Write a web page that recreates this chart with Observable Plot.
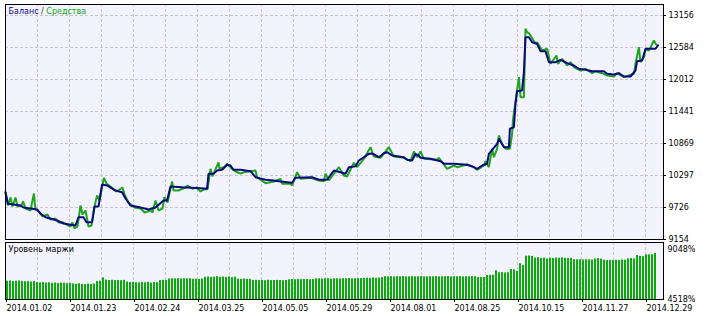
<!DOCTYPE html>
<html>
<head>
<meta charset="utf-8">
<script src="https://cdn.jsdelivr.net/npm/d3@7"></script>
<script src="https://cdn.jsdelivr.net/npm/@observablehq/plot@0.6"></script>
<style>
  html, body { margin: 0; padding: 0; background: #fff; }
  #chart { position: relative; width: 707px; height: 316px; overflow: hidden; background: #fff; }
  #chart svg { position: absolute; left: 0; }
</style>
</head>
<body>
<div id="chart"></div>
<script>
// ---- data (x = trade number along the tester axis) ----
const xDateLabels = ["2014.01.02","2014.01.23","2014.02.24","2014.03.25","2014.05.05","2014.05.29","2014.08.01","2014.08.25","2014.10.15","2014.11.27","2014.12.29"];
const xLabelTicks = [0,32,64,96,128,160,192,224,256,288,320];
const xGridTicks = [16,32,48,64,80,96,112,128,144,160,176,192,208,224,240,256,272,288,304,320];
const yTicks = [9154,9726,10297,10869,11441,12012,12584,13156];
const marginTicks = [4518,9048];

const balanceIdx = [0,1.2,7.5,9,15.8,17.5,20,25.8,29,35,36.5,39,40.5,43.3,44.5,46.5,48.3,50.8,55,58.3,60,62.5,67.5,71.5,75,79,80.8,82.5,88.3,97.5,100.8,101.5,104,105.8,108.3,110.8,112.5,114,117.5,122.5,125,130,134,137.5,143.3,145,153.3,156.7,160.8,164.2,167.5,170,171.7,175,176.7,181.7,183.5,186.7,189.2,190.8,193.3,199.2,200.8,203.3,205,206.5,207.5,212.5,217.5,219.2,224.2,230.8,234.2,235.8,238.3,240.8,241.7,245.8,246.7,249.2,251.7,252.2,254.2,255,255.8,258.3,259.2,260,261.7,263.3,265.8,267.5,270,271.7,275,277.5,280.8,284.2,286.7,290,293.3,299.2,300.8,304.2,306.7,309.2,312.5,315,315.8,318.3,320,325,326.2];
const balanceVal = [9999,9792,9761,9726,9690,9619,9552,9493,9440,9404,9552,9552,9463,9463,9744,9744,10137,10119,10029,9999,9887,9761,9726,9690,9726,9851,9851,10101,10088,10071,10060,10328,10328,10387,10399,10489,10476,10399,10399,10374,10267,10221,10208,10190,10167,10256,10267,10221,10221,10387,10356,10328,10446,10464,10565,10685,10690,10624,10696,10714,10655,10624,10578,10565,10685,10655,10614,10596,10553,10506,10506,10489,10446,10417,10476,10506,10685,10864,10953,10803,10803,11132,11160,11578,11804,11816,12143,12768,12768,12679,12650,12518,12518,12322,12322,12364,12304,12263,12204,12186,12161,12161,12114,12102,12125,12066,12066,12173,12340,12352,12561,12561,12620];

const equityIdx = [0,1.2,2.5,3.5,5,6,8,8.8,10,12.5,14.2,15,16.5,18.5,21,22.5,25,26.5,28.5,30.5,32.5,33.5,34.5,36,37.5,38.5,40,41.5,43,44.5,45.8,47,49.2,50.5,52.5,55.5,58.5,59.5,61.5,64.5,67.5,69.5,72.5,73.5,75,76.5,78.5,79.5,81,83.3,84,86.5,90,91,93.5,95.5,97.5,99.5,101,102.5,103.5,106.5,107,109.5,110.8,113,115,117.5,
  119.2,125,125.8,130,134.2,137.5,138.3,142.5,143.3,145.8,147.5,152.5,156.7,159.2,160,161.7,166.7,169.2,170.8,174.2,175.8,179.2,182.5,184.2,187.5,191.7,194.2,199.2,202.5,204.2,205.8,207.5,209.2,215.8,216.7,220.8,224.2,225.8,230.8,234.2,
  235.8,239.2,240,241.7,243.3,244.2,245.8,246.7,248.3,250,252.2,253.3,
  253.8,256.7,257.5,259.2,260,260.8,262,265,265.8,268.3,270.8,272.5,275.5,276.2,278.3,280.8,282.5,284.2,287.5,290,293.3,295,298.3,300.8,304.2,305.8,309.2,314.2,315,316.7,317.5,319.2,320,321.7,324.2,325.3,326.2];
const equityVal = [9999,9761,9904,9744,9904,9744,9761,9838,9708,9672,9976,9690,9654,9565,9601,9511,9529,9458,9463,9422,9386,9458,9351,9386,9761,9601,9672,9386,9404,9744,9940,9851,10256,10154,10101,10012,10083,9958,9815,9726,9708,9636,9672,9636,9851,9672,9708,9911,9815,10190,10030,10030,10083,10119,10060,10083,10012,10050,10050,10417,10280,10530,10422,10450,10510,10422,10369,10333,
  10356,10387,10267,10160,10190,10238,10149,10149,10119,10356,10238,10256,10208,10196,10328,10208,10446,10297,10280,10524,10446,10596,10803,10637,10614,10803,10637,10614,10553,10726,10624,10726,10596,10578,10614,10417,10476,10446,10494,10446,
  10399,10476,10553,10446,10774,10624,10774,11012,10864,10774,10774,11042,
  11310,12054,11696,11696,12918,12858,12829,12650,12679,12530,12561,12293,12441,12293,12382,12263,12322,12233,12173,12204,12125,12161,12125,12084,12066,12125,12054,12114,12293,12590,12322,12411,12543,12530,12709,12638,12620];

// margin level (%), one bar per step
const marginLevel = [
  6170,6190,6150,6180,6200,6160,6130,6150,6100,6140,
  6060,6020,6050,6000,6030,5990,6010,5970,6000,5990,
  5960,5980,5930,5900,5950,5880,5870,5920,5890,5930,
  6150,6180,6480,6280,6240,6260,6230,6240,6220,6250,
  6100,6060,6080,6040,6020,6060,6030,6070,6000,6050,
  6040,6230,6250,6230,6380,6400,6390,6410,6380,6400,
  6390,6400,6350,6360,6340,6370,6530,6560,6520,6540,
  6580,6530,6550,6520,6560,6500,6540,6360,6350,6370,
  6350,6340,6240,6250,6230,6240,6220,6260,6230,6240,
  6250,6230,6220,6240,6300,6330,6310,6340,6320,6330,
  6340,6310,6330,6390,6400,6380,6390,6410,6370,6400,
  6390,6380,6410,6400,6420,6390,6400,6410,6420,6440,
  6450,6430,6470,6440,6460,6500,6580,6570,6590,6560,
  6580,6570,6600,6560,6570,6590,6570,6580,6600,6570,
  6560,6580,6570,6590,6560,6570,6580,6600,6570,6580,
  6570,6590,6560,6580,6570,6590,6580,6500,6510,6520,
  6690,6700,6720,7120,6940,6950,6920,6940,7240,7200,
  7060,7750,7600,8440,8460,8420,8270,8300,8240,8260,
  8200,8260,8240,8280,8260,8290,8250,8240,8230,8120,
  8110,8120,8100,8120,8110,8100,8190,8230,8180,8080,
  8050,8060,8040,8070,8050,8100,8080,8200,8230,8190,
  8500,8420,8400,8560,8560,8570,8700
];

// ---- styling ----
const bg = "#F3F3FD";
const gridColor = "#C6C6CE";
const balanceColor = "#0A0A7E";
const equityColor = "#1EA51E";
const barColor = "#0DAA0D";
const font = "DejaVu Sans";
const xDomain = [0, 329];

const balance = balanceIdx.map((x, i) => ({x, v: balanceVal[i]}));
const equity = equityIdx.map((x, i) => ({x, v: equityVal[i]}));
const bars = marginLevel.map((v, i) => ({i, v}));

const topChart = Plot.plot({
  width: 707, height: 242,
  marginTop: 4, marginBottom: 3, marginLeft: 5, marginRight: 44,
  style: {fontFamily: font, fontSize: "8px", color: "#000", background: "transparent", overflow: "visible"},
  x: {domain: xDomain, axis: null},
  y: {domain: [9154, 13352], axis: null},
  marks: [
    Plot.frame({fill: bg}),
    Plot.ruleX(xGridTicks, {stroke: gridColor, strokeDasharray: "3,2"}),
    Plot.ruleY(yTicks.slice(1), {stroke: gridColor, strokeDasharray: "3,2"}),
    Plot.line(equity, {x: "x", y: "v", stroke: equityColor, strokeWidth: 2, strokeLinejoin: "miter"}),
    Plot.line(balance, {x: "x", y: "v", stroke: balanceColor, strokeWidth: 2, strokeLinejoin: "miter"}),
    Plot.frame({stroke: "#000"}),
    Plot.axisY({anchor: "right", label: null, ticks: yTicks, tickSize: 2, tickPadding: 3, tickFormat: d => String(d), fill: "#000", stroke: "#000"}),
    Plot.text(["Баланс / Средства"], {frameAnchor: "top-left", dx: 3, dy: 4, fill: balanceColor})
  ]
});

const bottomChart = Plot.plot({
  width: 707, height: 74,
  marginTop: 0, marginBottom: 17, marginLeft: 5, marginRight: 44,
  style: {fontFamily: font, fontSize: "8px", color: "#000", background: "#fff", overflow: "visible"},
  x: {domain: xDomain, axis: null},
  y: {domain: [4518, 9682], axis: null},
  marks: [
    Plot.frame({fill: bg}),
    Plot.ruleX(xGridTicks, {stroke: gridColor, strokeDasharray: "3,2"}),
    Plot.rectY(bars, {x1: d => 0.5 + 1.5 * d.i, x2: d => 1.5 + 1.5 * d.i, y1: 4518, y2: "v", fill: barColor}),
    Plot.frame({stroke: "#000"}),
    Plot.axisY({anchor: "right", label: null, ticks: marginTicks, tickSize: 0, tickPadding: 4, tickFormat: d => d + "%", fill: "#000"}),
    Plot.axisX({anchor: "bottom", label: null, ticks: xLabelTicks, tickSize: 3, tickPadding: 3, textAnchor: "start", dx: 1,
                tickFormat: d => xDateLabels[xLabelTicks.indexOf(d)], fill: "#000", stroke: "#000"}),
    Plot.text(["Уровень маржи"], {frameAnchor: "top-left", dx: 3, dy: 4, fill: "#000"})
  ]
});

topChart.style.top = "0px";
bottomChart.style.top = "242px";
const chart = document.getElementById("chart");
chart.appendChild(topChart);
chart.appendChild(bottomChart);

// colour the two parts of the legend title
d3.select(topChart).selectAll("text").filter(function() { return this.textContent === "Баланс / Средства"; })
  .each(function() {
    const t = d3.select(this);
    t.text("");
    t.append("tspan").attr("fill", balanceColor).text("Баланс");
    t.append("tspan").attr("fill", "#333").text(" / ");
    t.append("tspan").attr("fill", "#0AAA0A").text("Средства");
  });
</script>
</body>
</html>
